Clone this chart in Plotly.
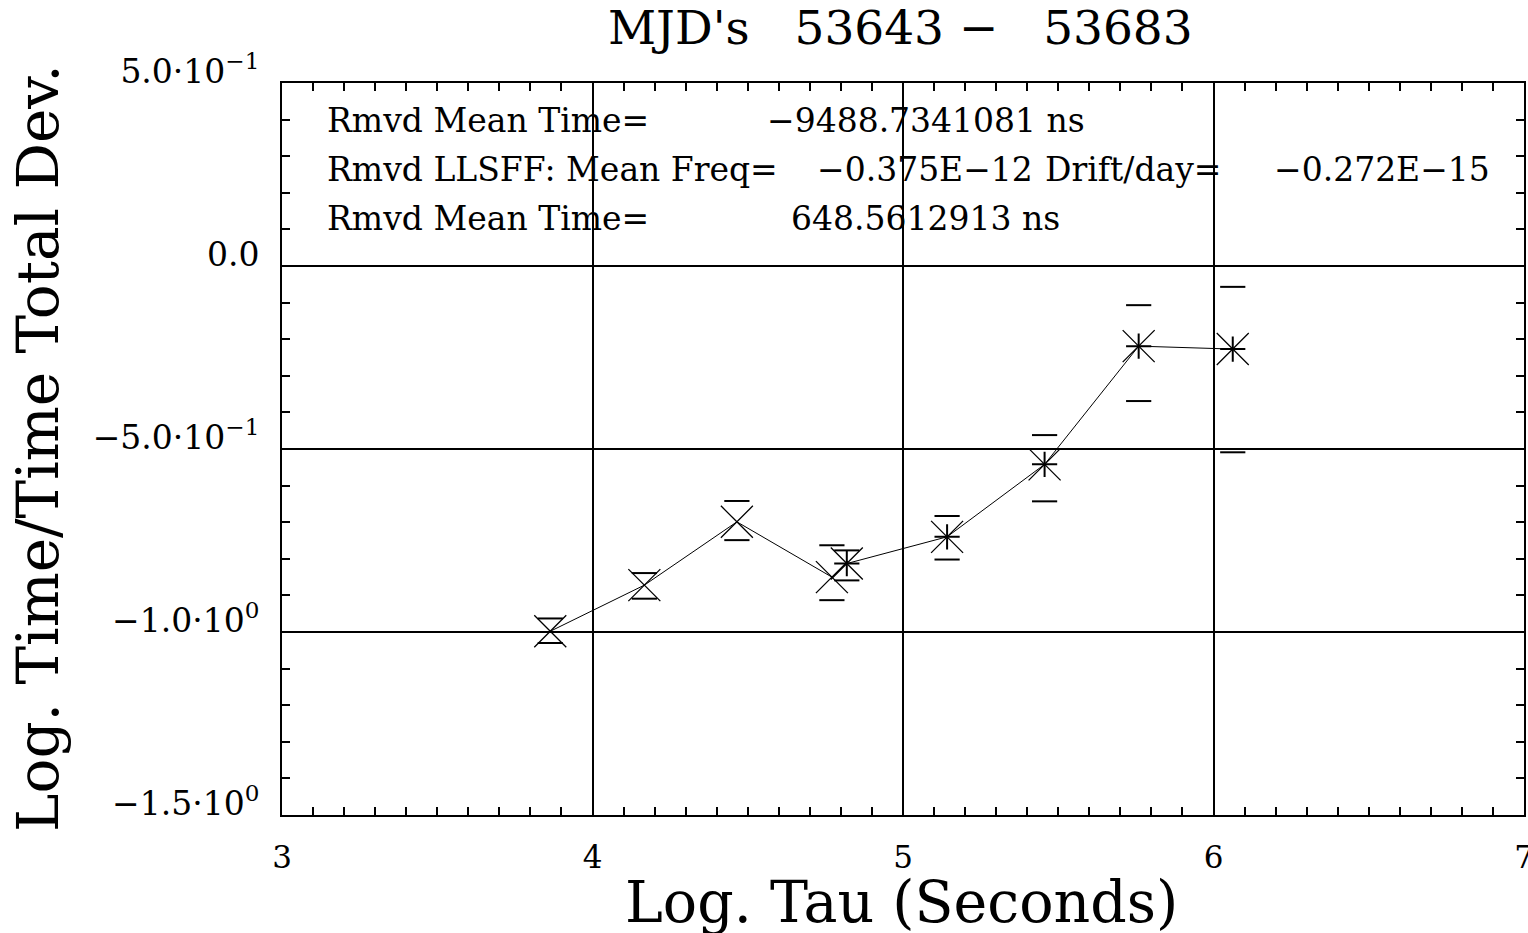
import plotly.graph_objects as go

# Total deviation of time residuals vs averaging time (log-log)
log_tau = [3.864, 4.167, 4.465, 4.771, 4.819, 5.142, 5.456, 5.759, 6.062]
log_tdev = [-0.998, -0.872, -0.699, -0.850, -0.813, -0.740, -0.542, -0.219, -0.227]
tdev_upper = [-0.963, -0.839, -0.642, -0.763, -0.777, -0.683, -0.462, -0.107, -0.057]
tdev_lower = [-1.030, -0.909, -0.749, -0.913, -0.859, -0.802, -0.643, -0.369, -0.509]
# points drawn with an extra "+" inside the "x"
star_idx = [4, 5, 6, 7, 8]

x_tickvals = [3, 4, 5, 6, 7]
x_ticktext = ["3", "4", "5", "6", "7"]
y_tickvals = [0.5, 0.0, -0.5, -1.0, -1.5]
y_ticktext = ["5.0·10<sup>−1</sup>", "0.0", "−5.0·10<sup>−1</sup>",
              "−1.0·10<sup>0</sup>", "−1.5·10<sup>0</sup>"]

title_text = "MJD's\u00a0\u00a0\u00a053643\u00a0−\u00a0\u00a0\u00a053683"
x_title = "Log. Tau (Seconds)"
y_title = "Log. Time/Time Total Dev."
stats = [
    ("Rmvd Mean Time=", 325, 120),
    ("−9488.7341081 ns", 765, 120),
    ("Rmvd LLSFF: Mean Freq=", 325, 169),
    ("−0.375E−12", 815, 169),
    ("Drift/day=", 1043, 169),
    ("−0.272E−15", 1272, 169),
    ("Rmvd Mean Time=", 325, 218),
    ("648.5612913 ns", 789, 218),
]

W, H = 1528, 933
ML, MR, MT, MB = 282, 4, 83, 118
PW, PH = W - ML - MR, H - MT - MB


def px_to_paper(px, py):
    return (px - ML) / PW, (H - MB - py) / PH


FONT = "DejaVu Serif"
fig = go.Figure()

# connecting line
fig.add_trace(go.Scatter(x=log_tau, y=log_tdev, mode="lines",
                         line=dict(color="black", width=1), hoverinfo="skip",
                         showlegend=False))
# big "x" marker at every point
fig.add_trace(go.Scatter(x=log_tau, y=log_tdev, mode="markers",
                         marker=dict(symbol="x-thin", size=32,
                                     line=dict(color="black", width=1.3)),
                         showlegend=False))
# "+" inside the later points
fig.add_trace(go.Scatter(x=[log_tau[i] for i in star_idx],
                         y=[log_tdev[i] for i in star_idx], mode="markers",
                         marker=dict(symbol="cross-thin", size=18,
                                     line=dict(color="black", width=2)),
                         showlegend=False))
# error bounds drawn as short horizontal dashes
fig.add_trace(go.Scatter(x=log_tau + log_tau, y=tdev_upper + tdev_lower,
                         mode="markers",
                         marker=dict(symbol="line-ew", size=18,
                                     line=dict(color="black", width=2)),
                         showlegend=False))

axis_common = dict(
    showline=True, linecolor="black", linewidth=2, mirror="ticks",
    showgrid=True, gridcolor="black", gridwidth=1.5, zeroline=False,
    ticks="inside", ticklen=8, tickwidth=1.5, tickcolor="black",
    ticklabeloverflow="allow",
)

fig.update_xaxes(range=[3, 7], tickmode="array", tickvals=x_tickvals,
                 ticktext=x_ticktext, ticklabelstandoff=14,
                 tickfont=dict(family=FONT, size=31, color="black"),
                 minor=dict(dtick=0.1, ticks="inside", ticklen=8, tickwidth=1.5,
                            tickcolor="black", showgrid=False),
                 **axis_common)
fig.update_yaxes(range=[-1.5, 0.5], tickmode="array", tickvals=y_tickvals,
                 ticktext=y_ticktext, ticklabelstandoff=14, ticklabelshift=-12,
                 tickfont=dict(family=FONT, size=33, color="black"),
                 minor=dict(dtick=0.1, ticks="inside", ticklen=8, tickwidth=1.5,
                            tickcolor="black", showgrid=False),
                 **axis_common)

annotations = []
tx, ty = px_to_paper(900, 28)
annotations.append(dict(text=title_text, x=tx, y=ty, xref="paper", yref="paper",
                        xanchor="center", yanchor="middle", showarrow=False,
                        font=dict(family=FONT, size=47, color="black")))
ax_, ay_ = px_to_paper(901, 902)
annotations.append(dict(text=x_title, x=ax_, y=ay_, xref="paper", yref="paper",
                        xanchor="center", yanchor="middle", showarrow=False,
                        font=dict(family=FONT, size=57, color="black")))
bx, by = px_to_paper(38, 448)
annotations.append(dict(text=y_title, x=bx, y=by, xref="paper", yref="paper",
                        xanchor="center", yanchor="middle", showarrow=False,
                        textangle=-90,
                        font=dict(family=FONT, size=58, color="black")))
for txt, px, py in stats:
    sx, sy = px_to_paper(px, py)
    annotations.append(dict(text=txt, x=sx, y=sy, xref="paper", yref="paper",
                            xanchor="left", yanchor="middle", showarrow=False,
                            font=dict(family=FONT, size=33, color="black")))

fig.update_layout(
    width=W, height=H,
    margin=dict(l=ML, r=MR, t=MT, b=MB, autoexpand=False),
    paper_bgcolor="white", plot_bgcolor="white",
    showlegend=False, annotations=annotations,
)

fig.write_html("out.html")
